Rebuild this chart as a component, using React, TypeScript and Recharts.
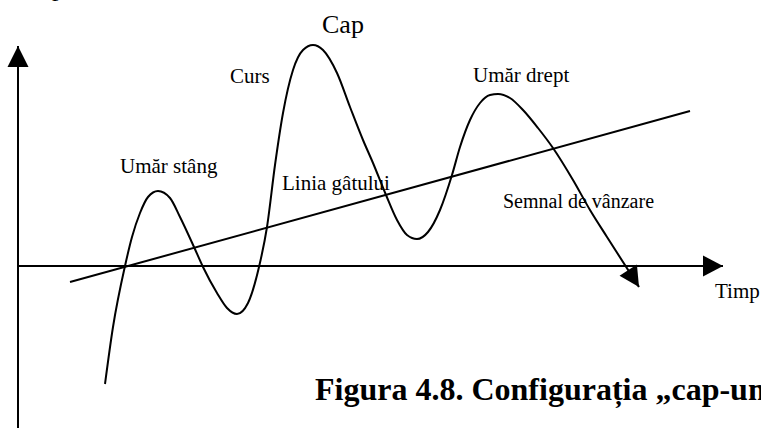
import React from "react";
import { ComposedChart, Line, Scatter, XAxis, YAxis } from "recharts";

// Price curve (time, price); time axis origin at the price axis
const curveTime = [87, 95, 107, 114, 122, 130, 140, 152, 162, 176, 185, 199, 209, 219, 230, 241, 249, 257, 265, 275, 285, 295, 305, 319, 332, 345, 355, 368, 379, 389, 399, 410, 422, 434, 442, 452, 462, 472, 480, 492, 505, 520, 535, 555, 572, 589, 621];
const curvePrice = [-118, -61, 0, 29, 53, 69, 75, 68, 49, 19, -1, -27, -42, -48, -37, -1, 39, 101, 153, 196, 216, 221, 216, 193, 159, 126, 103, 71, 46, 31, 27, 34, 56, 91, 119, 146, 163, 171, 172, 168, 156, 138, 118, 86, 56, 29, -21];

// Neckline (linia gâtului)
const neckTime = [52, 672];
const neckPrice = [-16, 155];

// Axes extents
const timeAxisTime = [0, 705];
const timeAxisPrice = [0, 0];
const priceAxisTime = [0, 0];
const priceAxisPrice = [-162, 220];

const labelCap = "Cap";
const labelCurs = "Curs";
const labelLeft = "Umăr stâng";
const labelNeck = "Linia gâtului";
const labelRight = "Umăr drept";
const labelSignal = "Semnal de vânzare";
const labelTime = "Timp";
const figureTitle = "Figura 4.8. Configurația „cap-umeri”";

const zip = (xs: number[], ys: number[]) => xs.map((x, i) => ({ x, y: ys[i] }));

const curveData = zip(curveTime, curvePrice);
const neckData = zip(neckTime, neckPrice);
const timeAxisData = zip(timeAxisTime, timeAxisPrice);
const priceAxisData = zip(priceAxisTime, priceAxisPrice);

const n = curveTime.length;
const arrowData = [
  { x: timeAxisTime[1], y: timeAxisPrice[1], dx: 1, dy: 0, len: 20, half: 10.5 },
  { x: priceAxisTime[1], y: priceAxisPrice[1], dx: 0, dy: 1, len: 21, half: 10.5 },
  {
    x: curveTime[n - 1],
    y: curvePrice[n - 1],
    dx: curveTime[n - 1] - curveTime[n - 2],
    dy: curvePrice[n - 1] - curvePrice[n - 2],
    len: 20,
    half: 10.3,
  },
];

const ArrowHead = (props: any) => {
  const { cx, cy, payload } = props;
  const l = Math.hypot(payload.dx, payload.dy);
  const ux = payload.dx / l;
  const uy = -payload.dy / l;
  const bx = cx - payload.len * ux;
  const by = cy - payload.len * uy;
  const nx = -uy * payload.half;
  const ny = ux * payload.half;
  const pts = `${cx},${cy} ${bx + nx},${by + ny} ${bx - nx},${by - ny}`;
  return <polygon points={pts} fill="#000" stroke="none" />;
};

const serif = "'Liberation Serif', 'Times New Roman', serif";

export default function App() {
  return (
    <div style={{ position: "absolute", left: 0, top: 0, width: 761, height: 428, background: "#fff" }}>
      <ComposedChart width={761} height={428} margin={{ top: 0, right: 0, bottom: 0, left: 0 }}>
        <XAxis type="number" dataKey="x" domain={[-18, 743]} allowDataOverflow hide />
        <YAxis type="number" dataKey="y" domain={[-162, 266]} allowDataOverflow hide />
        <Line data={priceAxisData} dataKey="y" type="linear" stroke="#000" strokeWidth={2} dot={false} activeDot={false} isAnimationActive={false} />
        <Line data={timeAxisData} dataKey="y" type="linear" stroke="#000" strokeWidth={2} dot={false} activeDot={false} isAnimationActive={false} />
        <Line data={neckData} dataKey="y" type="linear" stroke="#000" strokeWidth={2} dot={false} activeDot={false} isAnimationActive={false} />
        <Line data={curveData} dataKey="y" type="monotone" stroke="#000" strokeWidth={2} dot={false} activeDot={false} isAnimationActive={false} />
        <Scatter data={arrowData} dataKey="y" shape={ArrowHead} isAnimationActive={false} />
        <text x={52} y={-4} fontFamily={serif} fontSize={26} fill="#000">p</text>
        <text x={322} y={33} fontFamily={serif} fontSize={26} fill="#000">{labelCap}</text>
        <text x={230} y={83} fontFamily={serif} fontSize={21} fill="#000">{labelCurs}</text>
        <text x={120} y={173} fontFamily={serif} fontSize={21} fill="#000">{labelLeft}</text>
        <text x={282} y={190} fontFamily={serif} fontSize={21} fill="#000">{labelNeck}</text>
        <text x={473} y={82} fontFamily={serif} fontSize={21} fill="#000">{labelRight}</text>
        <text x={503} y={208} fontFamily={serif} fontSize={20} fill="#000">{labelSignal}</text>
        <text x={715} y={298} fontFamily={serif} fontSize={21} fill="#000">{labelTime}</text>
        <text x={315} y={400} fontFamily={serif} fontSize={32} fontWeight="bold" fill="#000">{figureTitle}</text>
      </ComposedChart>
    </div>
  );
}
